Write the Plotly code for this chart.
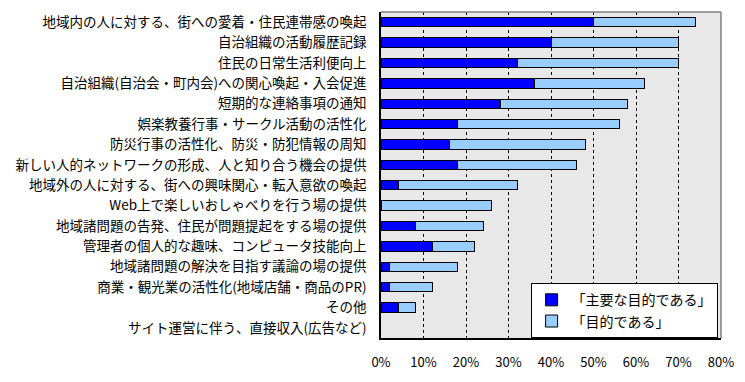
import plotly.graph_objects as go

categories = [
    "地域内の人に対する、街への愛着・住民連帯感の喚起",
    "自治組織の活動履歴記録",
    "住民の日常生活利便向上",
    "自治組織(自治会・町内会)への関心喚起・入会促進",
    "短期的な連絡事項の通知",
    "娯楽教養行事・サークル活動の活性化",
    "防災行事の活性化、防災・防犯情報の周知",
    "新しい人的ネットワークの形成、人と知り合う機会の提供",
    "地域外の人に対する、街への興味関心・転入意欲の喚起",
    "Web上で楽しいおしゃべりを行う場の提供",
    "地域諸問題の告発、住民が問題提起をする場の提供",
    "管理者の個人的な趣味、コンピュータ技能向上",
    "地域諸問題の解決を目指す議論の場の提供",
    "商業・観光業の活性化(地域店舗・商品のPR)",
    "その他",
    "サイト運営に伴う、直接収入(広告など)",
]
main_purpose = [50, 40, 32, 36, 28, 18, 16, 18, 4, 0, 8, 12, 2, 2, 4, 0]
purpose = [24, 30, 38, 26, 30, 38, 32, 28, 28, 26, 16, 10, 16, 10, 4, 0]
series_names = ["「主要な目的である」", "「目的である」"]
tick_vals = [0, 10, 20, 30, 40, 50, 60, 70, 80]
tick_text = ["0%", "10%", "20%", "30%", "40%", "50%", "60%", "70%", "80%"]

FONT = "Noto Sans CJK JP"


def outline_widths(values):
    # no outline for zero-length bars (nothing drawn in the reference)
    return [1 if v > 0 else 0 for v in values]


fig = go.Figure()
fig.add_trace(go.Bar(
    y=categories, x=main_purpose, orientation="h", name=series_names[0],
    marker=dict(color="#0000FF",
                line=dict(color="black", width=outline_widths(main_purpose))),
))
fig.add_trace(go.Bar(
    y=categories, x=purpose, orientation="h", name=series_names[1],
    marker=dict(color="#99CCFF",
                line=dict(color="black", width=outline_widths(purpose))),
))

fig.update_layout(
    width=745, height=382,
    margin=dict(l=381, r=23, t=11, b=43),
    barmode="stack", bargap=0.54,
    paper_bgcolor="white", plot_bgcolor="#e8e8e8",
    font=dict(family=FONT, size=13.5, color="black"),
    legend=dict(
        x=0.44, y=0.168, xanchor="left", yanchor="top",
        bgcolor="white", bordercolor="black", borderwidth=1,
        font=dict(family=FONT, size=14, color="black"),
        traceorder="normal", tracegroupgap=0, itemwidth=30,
    ),
    xaxis=dict(
        range=[0, 80], tickvals=tick_vals, ticktext=tick_text,
        showgrid=True, gridcolor="black", gridwidth=1, griddash="3px,3px",
        showline=True, linecolor="black", linewidth=1.5, zeroline=False,
        ticks="outside", ticklen=12, tickcolor="rgba(0,0,0,0)",
        tickfont=dict(family=FONT, size=13, color="black"),
    ),
    yaxis=dict(
        autorange="reversed", showgrid=False,
        showline=True, linecolor="black", linewidth=1.5,
        ticks="outside", ticklen=10, tickcolor="rgba(0,0,0,0)",
        tickfont=dict(family=FONT, size=13.5, color="black"),
    ),
    shapes=[
        dict(type="line", xref="paper", yref="paper", x0=0, x1=1, y0=1, y1=1,
             line=dict(color="#808080", width=1.5)),
        dict(type="line", xref="paper", yref="paper", x0=1, x1=1, y0=0, y1=1,
             line=dict(color="#808080", width=1.5)),
    ],
)

fig.write_html(
    "out.html",
    config={"displayModeBar": False},
    post_script="document.body.style.margin='0';document.body.style.padding='0';",
)
